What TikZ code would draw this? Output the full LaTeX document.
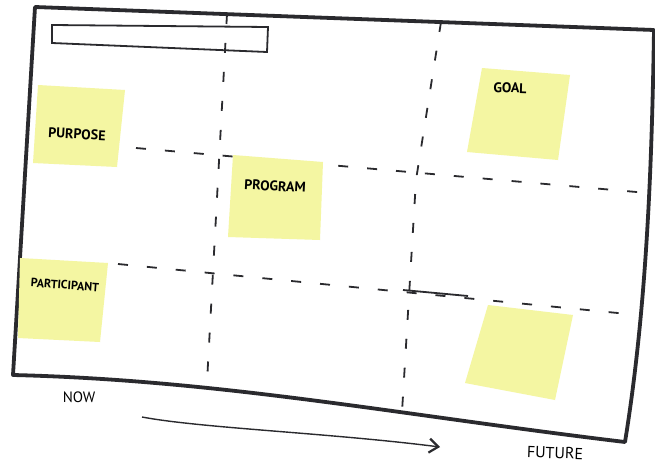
\documentclass[tikz,border=0pt]{standalone}
\usepackage{fontspec}
\setsansfont{PT Sans}
\usetikzlibrary{arrows.meta}
\definecolor{stickyyellow}{HTML}{F4F6A2}
\definecolor{marker}{HTML}{2A2A2E}
\begin{document}
\begin{tikzpicture}[x=1pt,y=-1pt,
  frame/.style={draw=marker,line width=3.8pt,line join=round,line cap=round},
  grid/.style={draw=marker,line width=1.8pt,dash pattern=on 10pt off 19pt},
  sticky/.style={fill=stickyyellow,draw=none},
  label/.style={font=\sffamily\bfseries\fontsize{14}{16}\selectfont,text=black,inner sep=0pt},
  hand/.style={font=\sffamily\fontsize{15}{17}\selectfont,text=black,inner sep=0pt},
  arrowline/.style={draw=marker,line width=1.4pt,-{Straight Barb[length=9pt,width=14pt,line width=2.2pt]}}]
\useasboundingbox (0,0) rectangle (655,466);
\fill[white] (0,0) rectangle (655,466);
% frame
\draw[frame] (35,7) -- (654,30) .. controls (652,150) and (648,300) .. (625,442)
  .. controls (400,415) and (220,380) .. (13,375) -- cycle;
% title bar
\draw[draw=marker,line width=1.8pt] (52,25) -- (268,27) -- (267,52) -- (52,43) -- cycle;
% grid lines
\draw[grid] (227,14) -- (207,382);
\draw[grid] (441,22) -- (416,180) -- (402,412);
\draw[grid] (136,148) -- (648,193);
\draw[grid] (118,264) -- (628,314);
\draw[draw=marker,line width=1.8pt] (403,290) -- (468,296);
% sticky notes
\fill[sticky] (38,85) -- (125,90) -- (117,167) -- (33,163) -- cycle;
\fill[sticky] (233,155) -- (323,162) -- (320,240) -- (228,237) -- cycle;
\fill[sticky] (482,68) -- (570,75) -- (558,160) -- (467,152) -- cycle;
\fill[sticky] (20,258) -- (108,263) -- (100,342) -- (18,338) -- cycle;
\fill[sticky] (488,305) -- (573,315) -- (555,400) -- (465,383) -- cycle;
% labels
\node[label,rotate=-3] (purpose) at (77,134) {PURPOSE};
\node[label,rotate=-3] (program) at (275,186) {PROGRAM};
\node[label,rotate=-2] (goal) at (510,88) {GOAL};
\node[label,rotate=-4,font=\sffamily\bfseries\fontsize{12}{14}\selectfont] (participant) at (65,285) {PARTICIPANT};
\node[hand] (now) at (79,397) {NOW};
\node[hand,rotate=-2,font=\sffamily\fontsize{16}{18}\selectfont] (future) at (555,453) {FUTURE};
% time arrow
\coordinate (arrowstart) at (142,417);
\coordinate (arrowend) at (440,447);
\draw[arrowline] (arrowstart) .. controls (200,428) and (330,433) .. (arrowend);
\end{tikzpicture}
\end{document}
